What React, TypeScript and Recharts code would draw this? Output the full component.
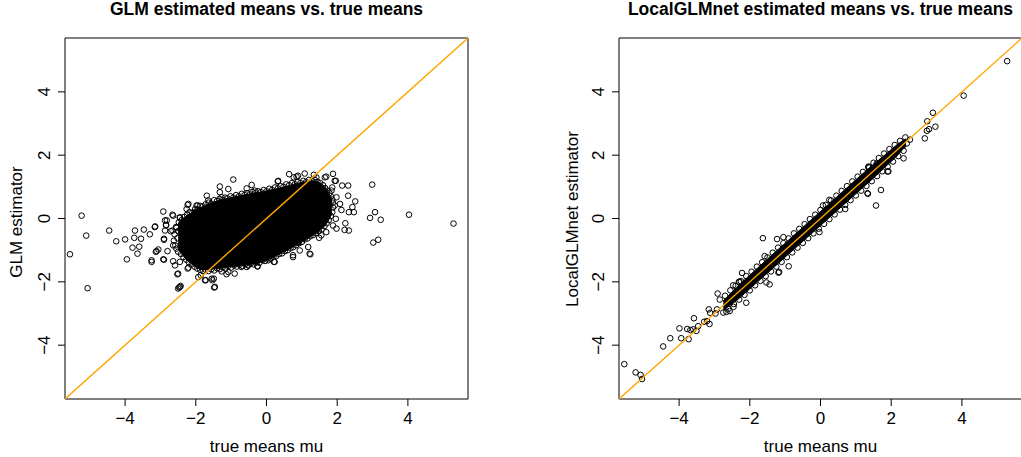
import { Area, ComposedChart, ReferenceArea, Scatter, XAxis, YAxis } from "recharts";

const axisTicks = [-4, -2, 0, 2, 4];
const limits: [number, number] = [-5.7, 5.7];

// solid core of the GLM cloud: x, lower, upper
const glmCore: [number, number, number][] = [
  [-2.5, -0.95, -0.15],
  [-2.3, -1.25, 0.05],
  [-2.1, -1.45, 0.2],
  [-1.8, -1.62, 0.38],
  [-1.4, -1.58, 0.55],
  [-1.0, -1.52, 0.66],
  [-0.5, -1.46, 0.77],
  [0.0, -1.32, 0.87],
  [0.5, -1.05, 1.0],
  [1.0, -0.74, 1.14],
  [1.3, -0.54, 1.19],
  [1.55, -0.34, 1.1],
  [1.72, -0.12, 0.88],
  [1.85, 0.15, 0.6],
];

// rings along the upper rim of the GLM cloud
const glmUpperRim: [number, number][] = [
  [-2.55, -0.3], [-2.48, -0.12], [-2.4, -0.05], [-2.33, 0.05], [-2.25, 0.12],
  [-2.18, 0.2], [-2.1, 0.18], [-2.02, 0.3], [-1.95, 0.28], [-1.88, 0.4],
  [-1.8, 0.38], [-1.72, 0.45], [-1.64, 0.5], [-1.56, 0.47], [-1.48, 0.58],
  [-1.4, 0.55], [-1.33, 0.62], [-1.25, 0.58], [-1.17, 0.66], [-1.1, 0.63],
  [-1.02, 0.7], [-0.94, 0.66], [-0.86, 0.74], [-0.78, 0.7], [-0.7, 0.78],
  [-0.62, 0.74], [-0.55, 0.8], [-0.47, 0.76], [-0.4, 0.84], [-0.32, 0.8],
  [-0.24, 0.86], [-0.16, 0.83], [-0.08, 0.9], [0.0, 0.86], [0.08, 0.94],
  [0.16, 0.9], [0.24, 0.98], [0.32, 0.95], [0.4, 1.02], [0.48, 1.0],
  [0.56, 1.08], [0.64, 1.05], [0.72, 1.12], [0.8, 1.08], [0.88, 1.15],
  [0.96, 1.12], [1.04, 1.19], [1.12, 1.15], [1.2, 1.22], [1.28, 1.18],
  [1.36, 1.22], [1.44, 1.16], [1.52, 1.12], [1.6, 1.05], [1.66, 0.96],
  [1.72, 0.88], [1.78, 0.8], [1.82, 0.7], [1.86, 0.6], [1.88, 0.5],
];

// rings along the lower rim of the GLM cloud
const glmLowerRim: [number, number][] = [
  [-2.6, -0.5], [-2.62, -0.7], [-2.58, -0.85], [-2.52, -0.62], [-2.5, -0.4],
  [-2.55, -0.95], [-2.5, -1.05], [-2.42, -1.12], [-2.35, -1.22], [-2.27, -1.3],
  [-2.2, -1.38], [-2.12, -1.45], [-2.04, -1.52], [-1.96, -1.58], [-1.88, -1.62],
  [-1.8, -1.66], [-1.72, -1.62], [-1.64, -1.66], [-1.56, -1.6], [-1.48, -1.64],
  [-1.4, -1.57], [-1.32, -1.6], [-1.24, -1.54], [-1.16, -1.58], [-1.08, -1.5],
  [-1.0, -1.55], [-0.92, -1.48], [-0.84, -1.52], [-0.76, -1.46], [-0.68, -1.5],
  [-0.6, -1.44], [-0.52, -1.48], [-0.44, -1.42], [-0.36, -1.45], [-0.28, -1.38],
  [-0.2, -1.4], [-0.12, -1.32], [-0.04, -1.34], [0.04, -1.26], [0.12, -1.27],
  [0.2, -1.2], [0.28, -1.18], [0.36, -1.12], [0.44, -1.1], [0.52, -1.03],
  [0.6, -1.0], [0.68, -0.94], [0.76, -0.9], [0.84, -0.84], [0.92, -0.78],
  [1.0, -0.74], [1.08, -0.66], [1.16, -0.63], [1.24, -0.56], [1.32, -0.52],
  [1.4, -0.46], [1.48, -0.4], [1.56, -0.34], [1.64, -0.24], [1.7, -0.15],
  [1.76, -0.05], [1.82, 0.08], [1.86, 0.2], [1.88, 0.35],
];

// single GLM observations away from the cloud
const glmOutliers: [number, number][] = [
  [-5.56, -1.13], [-5.23, 0.09], [-5.1, -0.54], [-5.06, -2.2], [-4.45, -0.38],
  [-4.25, -0.72], [-4.0, -0.66], [-3.95, -1.29], [-3.72, -0.38], [-3.74, -0.61],
  [-3.55, -0.64], [-3.79, -0.92], [-3.6, -0.89], [-3.65, -1.11], [-3.47, -0.35],
  [-3.3, -0.5], [-3.16, -0.27], [-3.13, -1.05], [-3.06, -0.98], [-3.25, -1.37],
  [-2.92, 0.22], [-2.82, -0.06], [-2.84, -0.2], [-2.87, -0.38], [-2.9, -0.64],
  [-2.8, -1.03], [-2.92, -1.29], [-2.66, 0.12], [-2.64, -1.35], [-2.52, -1.76],
  [-2.47, -2.18], [-2.43, -2.13], [-2.23, 0.43], [-1.72, -1.95], [-1.48, -2.18],
  [-2.21, -1.55], [-2.56, -0.27], [-2.71, -0.4], [-2.64, -0.85], [-3.15, -0.25],
  [-2.45, 0.02], [-3.11, -1.03], [-2.5, -1.74], [-1.46, -2.16], [-1.49, -1.9],
  [-1.55, -1.9], [-1.74, -1.95], [-1.86, -1.79], [-2.23, -1.58], [-1.13, -1.76],
  [-1.95, 0.41], [-0.94, 1.23], [-1.32, 1.01], [-1.32, 0.83], [-1.27, 0.67],
  [-1.04, 0.48], [-0.42, 1.06], [0.64, 1.4], [0.85, 1.32], [1.08, 1.42],
  [1.34, 1.38], [0.32, 1.17], [-1.08, 0.93], [-0.56, 0.95], [-0.33, 0.88],
  [0.33, 1.19], [0.77, 1.3], [0.89, 1.35], [1.41, 1.3], [1.65, 1.3],
  [1.88, 1.41], [1.96, 1.19], [1.84, 0.88], [1.98, 0.67], [1.93, 0.41],
  [-2.21, 0.46], [-1.98, 0.41], [-2.03, 0.2], [-2.26, 0.3], [-1.69, 0.72],
  [-1.65, 0.57], [-2.64, 0.09], [-2.45, 0.04],
  [2.99, 1.07], [3.07, 0.2], [3.23, -0.04], [2.93, 0.02], [3.16, -0.67],
  [3.02, -0.76], [4.03, 0.12], [5.29, -0.16], [2.31, 1.04], [2.14, 1.04],
  [2.51, 0.54], [2.43, 0.36], [2.47, 0.2], [2.33, 0.2], [2.33, -0.38],
  [2.21, -0.36], [1.98, -0.32], [2.23, -0.15], [2.08, 0.46], [2.31, 0.72],
  [2.12, 0.27], [1.69, 1.32], [1.93, 1.19], [1.86, 0.98], [1.96, -0.01],
  [1.88, -0.22], [1.69, -0.43], [1.55, -0.53],
  [1.49, -0.61], [1.24, -1.13], [0.94, -1.01], [0.75, -1.22], [0.21, -1.37],
  [-0.25, -1.51], [-0.56, -1.53], [-0.71, -1.53], [1.22, -1.11], [1.18, -0.9],
  [0.89, -0.76], [0.75, -1.16], [0.23, -1.37], [0.05, -1.32], [-0.24, -1.22],
  [-0.52, -1.48], [-0.26, -1.51], [-0.9, -1.74], [-1.08, -1.69], [-1.27, -1.67],
  [-1.53, -1.95], [-1.93, -1.85], [-2.45, -2.16], [-2.5, -2.21], [-2.59, -1.48],
  [-2.45, -1.37], [-2.66, -0.38], [-2.87, -0.06], [-2.84, -0.22], [-2.9, -0.67],
  [-2.9, -1.3], [-3.25, -1.32],
];

// solid core of the LocalGLMnet band: x, lower, upper
const netCore: [number, number, number][] = [
  [-2.75, -2.9, -2.6],
  [-2.3, -2.52, -2.1],
  [-2.0, -2.22, -1.79],
  [-1.5, -1.72, -1.28],
  [-1.0, -1.22, -0.78],
  [-0.5, -0.72, -0.28],
  [0, -0.22, 0.22],
  [0.5, 0.28, 0.72],
  [1.0, 0.78, 1.22],
  [1.5, 1.28, 1.71],
  [1.9, 1.7, 2.08],
  [2.2, 2.02, 2.36],
  [2.42, 2.32, 2.52],
];

// rings along both edges of the LocalGLMnet band
const netRim: [number, number][] = [
  [-2.7, -2.44], [-2.55, -2.27], [-2.4, -2.13], [-2.25, -1.98], [-2.1, -1.82],
  [-1.95, -1.68], [-1.8, -1.52], [-1.65, -1.38], [-1.5, -1.23], [-1.35, -1.08],
  [-1.2, -0.92], [-1.05, -0.78], [-0.9, -0.63], [-0.75, -0.47], [-0.6, -0.33],
  [-0.45, -0.18], [-0.3, -0.02], [-0.15, 0.12], [0.0, 0.27], [0.15, 0.43],
  [0.3, 0.57], [0.45, 0.72], [0.6, 0.87], [0.75, 1.02], [0.9, 1.17],
  [1.05, 1.32], [1.2, 1.47], [1.35, 1.62], [1.5, 1.76], [1.65, 1.91],
  [1.8, 2.05], [1.95, 2.19], [2.1, 2.32], [2.25, 2.45], [2.4, 2.56],
  [-2.75, -2.97], [-2.6, -2.85], [-2.45, -2.7], [-2.3, -2.56], [-2.15, -2.41],
  [-2.0, -2.27], [-1.85, -2.11], [-1.7, -1.97], [-1.55, -1.82], [-1.4, -1.67],
  [-1.25, -1.52], [-1.1, -1.37], [-0.95, -1.22], [-0.8, -1.07], [-0.65, -0.92],
  [-0.5, -0.77], [-0.35, -0.62], [-0.2, -0.47], [-0.05, -0.32], [0.1, -0.17],
  [0.25, -0.02], [0.4, 0.13], [0.55, 0.28], [0.7, 0.43], [0.85, 0.58],
  [1.0, 0.73], [1.15, 0.88], [1.3, 1.03], [1.45, 1.18], [1.6, 1.34],
  [1.75, 1.49], [1.9, 1.64], [2.05, 1.8], [2.2, 1.97], [2.35, 2.14],
];

// single LocalGLMnet observations away from the band
const netOutliers: [number, number][] = [
  [-5.55, -4.6], [-5.23, -4.86], [-5.09, -4.94], [-5.05, -5.07], [-4.45, -4.04],
  [-4.25, -3.78], [-3.94, -3.78], [-3.99, -3.47], [-3.73, -3.81], [-3.77, -3.49],
  [-3.68, -3.52], [-3.6, -3.5], [-3.51, -3.55], [-3.58, -3.15], [-3.46, -3.4],
  [-3.29, -3.26], [-3.21, -3.24], [-3.14, -3.33], [-3.16, -2.87], [-3.12, -2.98],
  [-2.97, -3.0], [-2.93, -2.87], [-2.91, -2.37], [-2.85, -2.56], [-2.66, -2.95],
  [-2.57, -2.92], [-2.46, -2.79], [-2.47, -2.11], [-2.29, -2.0], [-2.22, -1.72],
  [-2.1, -2.66], [-1.53, -2.02], [-1.44, -2.08], [-1.19, -1.71], [-0.9, -1.51],
  [-1.58, -1.19], [5.28, 4.97], [4.05, 3.88], [3.18, 3.34], [3.02, 3.07],
  [3.07, 2.82], [3.01, 2.77], [3.25, 2.9], [2.95, 2.53], [2.53, 2.49],
  [2.44, 2.37], [2.33, 2.3], [2.35, 1.9], [1.71, 0.9], [1.57, 0.41],
  [1.34, 0.78], [1.9, 1.48], [-0.03, -0.43], [1.38, 1.61], [1.33, 0.8],
  [1.36, 1.64], [-1.63, -0.62], [-1.23, -0.65], [-1.05, -0.59], [0.7, 0.3],
  [-1.17, -1.69], [-2.31, -2.0], [1.92, 1.49], [1.59, 1.74], [0.25, 0.59],
  [0.07, 0.41],
];

const diagonal = [
  { x: limits[0], y: limits[0] },
  { x: limits[1], y: limits[1] },
];

const font = "'Liberation Sans', Arial, Helvetica, sans-serif";
const fmt = (v: number) => (v < 0 ? `\u2212${-v}` : `${v}`);

const ring = (p: any) => (
  <circle cx={p.cx} cy={p.cy} r={2.8} fill="none" stroke="#000" strokeWidth={1} />
);

const XTick = (p: any) => (
  <text x={p.x} y={p.y + 18} textAnchor="middle" fontSize={17} fontFamily={font} fill="#000">
    {fmt(p.payload.value)}
  </text>
);

const YTick = (p: any) => (
  <text
    x={p.x - 8}
    y={p.y}
    transform={`rotate(-90, ${p.x - 8}, ${p.y})`}
    textAnchor="middle"
    fontSize={17}
    fontFamily={font}
    fill="#000"
  >
    {fmt(p.payload.value)}
  </text>
);

type PanelProps = {
  left: number;
  width: number;
  yWidth: number;
  right: number;
  core: [number, number, number][];
  points: [number, number][];
};

function Panel({ left, width, yWidth, right, core, points }: PanelProps) {
  const rows = core.map(([x, lo, hi]) => ({ x, band: [lo, hi] }));
  const pts = points.map(([x, y]) => ({ x, y }));
  return (
    <div style={{ position: "absolute", left, top: 0 }}>
      <ComposedChart
        width={width}
        height={457}
        data={rows}
        margin={{ top: 38, right, bottom: 0, left: 0 }}
      >
        <XAxis
          type="number"
          dataKey="x"
          domain={limits}
          allowDataOverflow
          ticks={axisTicks}
          interval={0}
          height={58}
          tickSize={7}
          tickMargin={0}
          axisLine={false}
          tickLine={{ stroke: "#000" }}
          tick={<XTick />}
        />
        <YAxis
          type="number"
          dataKey="y"
          domain={limits}
          allowDataOverflow
          ticks={axisTicks}
          interval={0}
          width={yWidth}
          tickSize={7}
          tickMargin={0}
          axisLine={false}
          tickLine={{ stroke: "#000" }}
          tick={<YTick />}
        />
        <Area
          type="monotone"
          dataKey="band"
          stroke="#000"
          strokeWidth={1}
          fill="#000"
          fillOpacity={1}
          dot={false}
          activeDot={false}
          isAnimationActive={false}
        />
        <Scatter data={pts} shape={ring} isAnimationActive={false} />
        <Scatter
          data={diagonal}
          line={{ stroke: "#FFA500", strokeWidth: 1.4 }}
          shape={() => <g />}
          isAnimationActive={false}
        />
        <ReferenceArea
          x1={limits[0]}
          x2={limits[1]}
          y1={limits[0]}
          y2={limits[1]}
          fill="none"
          stroke="#000"
          strokeWidth={1}
        />
      </ComposedChart>
    </div>
  );
}

export default function App() {
  return (
    <div
      style={{
        position: "fixed",
        left: 0,
        top: 0,
        width: 1021,
        height: 457,
        overflow: "hidden",
        background: "#fff",
        fontFamily: font,
      }}
    >
      <Panel
        left={0}
        width={510}
        yWidth={65}
        right={42}
        core={glmCore}
        points={[...glmUpperRim, ...glmLowerRim, ...glmOutliers]}
      />
      <Panel
        left={540}
        width={482}
        yWidth={79}
        right={0}
        core={netCore}
        points={[...netRim, ...netOutliers]}
      />
      <svg
        width={1021}
        height={457}
        style={{ position: "absolute", left: 0, top: 0, pointerEvents: "none" }}
        fontFamily={font}
      >
        <text x={266.5} y={15} textAnchor="middle" fontSize={17.5} fontWeight="bold">
          GLM estimated means vs. true means
        </text>
        <text x={820.5} y={15} textAnchor="middle" fontSize={17.5} fontWeight="bold">
          LocalGLMnet estimated means vs. true means
        </text>
        <text x={266.5} y={452} textAnchor="middle" fontSize={17}>
          true means mu
        </text>
        <text x={820.5} y={452} textAnchor="middle" fontSize={17}>
          true means mu
        </text>
        <text x={21.5} y={222} textAnchor="middle" fontSize={17} transform="rotate(-90, 21.5, 222)">
          GLM estimator
        </text>
        <text x={578} y={219} textAnchor="middle" fontSize={17} transform="rotate(-90, 578, 219)">
          LocalGLMnet estimator
        </text>
      </svg>
    </div>
  );
}
